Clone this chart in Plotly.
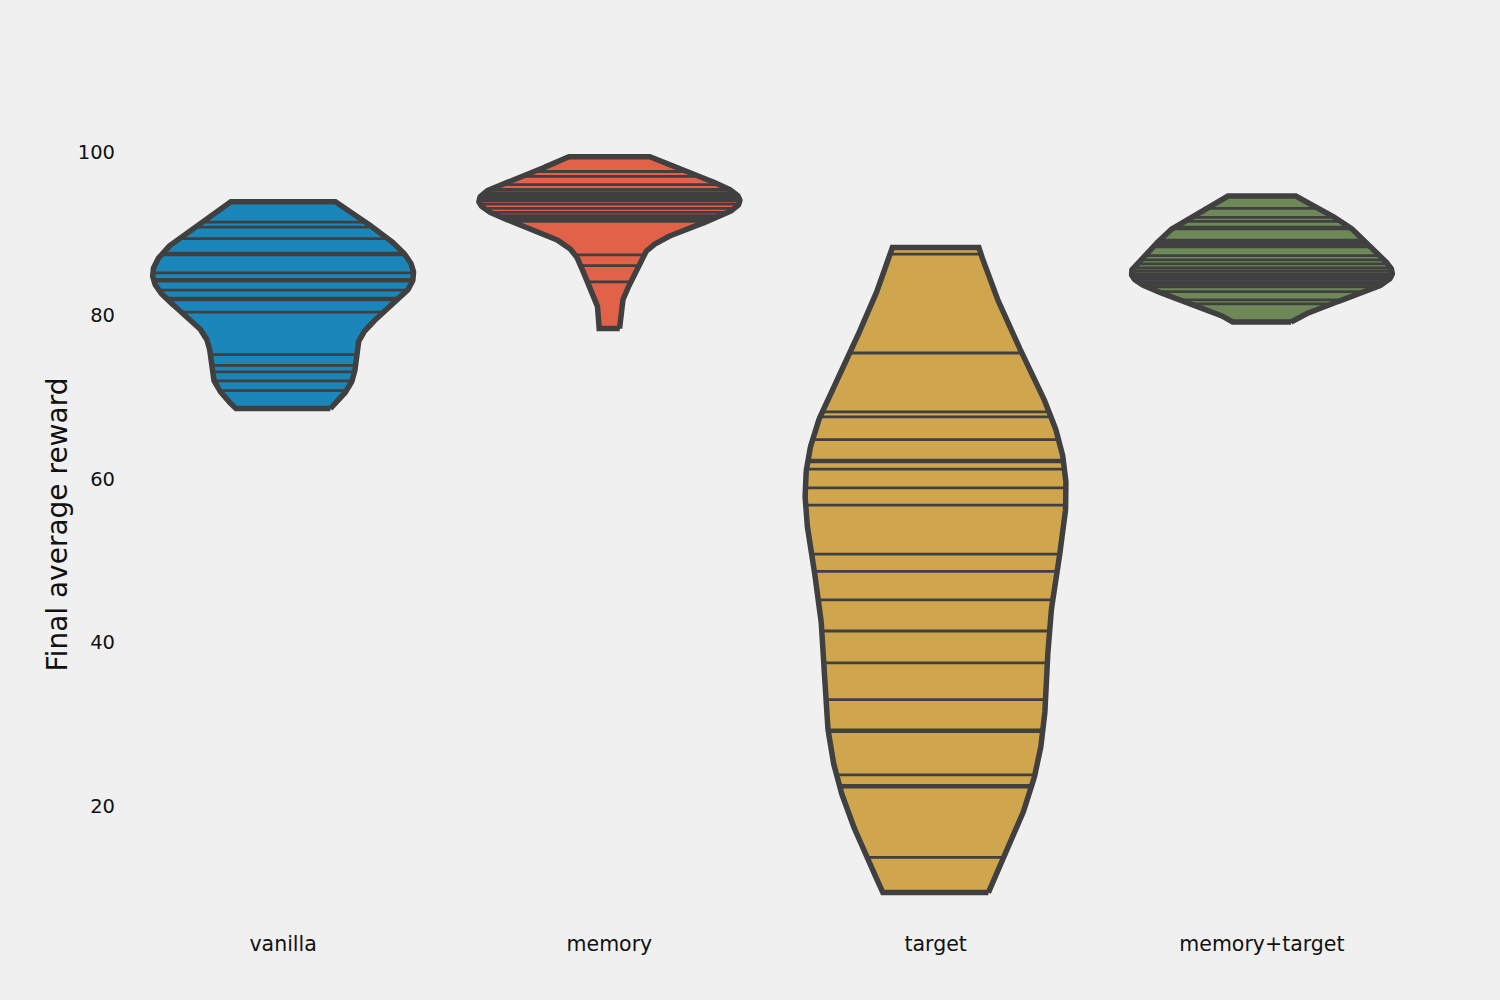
import numpy as np
import plotly.graph_objects as go

categories = ["vanilla", "memory", "target", "memory+target"]

vanilla = [93.9, 91.4, 90.8, 89.4, 87.6, 87.5, 87.4, 85.2, 84.4, 84.2, 83.1, 82.1,
           82.0, 81.9, 80.4, 75.2, 73.9, 73.1, 72.0, 70.8, 68.6]
memory = [99.4, 97.6, 97.0, 96.0, 95.4, 95.0, 94.8, 94.6, 94.4, 94.2, 94.0, 93.6,
          93.1, 92.6, 92.2, 91.9, 91.7, 91.5, 87.4, 86.1, 84.1, 78.4]
target = [88.3, 87.5, 75.4, 68.2, 67.6, 64.8, 62.3, 62.1, 61.2, 58.9, 56.8, 50.8,
          48.7, 45.2, 41.4, 37.5, 33.0, 29.3, 29.1, 23.8, 22.5, 22.3, 13.7, 9.4]
memory_target = [94.6, 93.1, 92.0, 91.5, 90.8, 90.6, 89.2, 89.0, 88.7, 88.4, 87.3,
                 86.8, 86.3, 85.8, 85.4, 85.0, 84.7, 84.4, 84.1, 83.8, 83.5, 82.9,
                 81.9, 81.4, 79.2]

series = [vanilla, memory, target, memory_target]
fill_colors = ["#1b86ba", "#e26149", "#cfa64e", "#6e8857"]
line_color = "#404040"
y_ticks = [20, 40, 60, 80, 100]

HALF_WIDTH = 0.4


def kde(data, grid):
    data = np.asarray(data, float)
    n = len(data)
    bw = n ** (-1.0 / 5) * np.std(data, ddof=1)
    z = (grid[:, None] - data[None, :]) / bw
    return np.exp(-0.5 * z ** 2).sum(axis=1) / (n * bw * np.sqrt(2 * np.pi))


fig = go.Figure()
for i, (vals, col) in enumerate(zip(series, fill_colors)):
    vals = np.asarray(vals, float)
    grid = np.linspace(vals.min(), vals.max(), 300)
    dens = kde(vals, grid)
    scale = HALF_WIDTH / dens.max()
    d = dens * scale
    xs = np.concatenate([i + d, (i - d)[::-1], [i + d[0]]])
    ys = np.concatenate([grid, grid[::-1], [grid[0]]])
    fig.add_trace(go.Scatter(x=xs, y=ys, mode="lines", fill="toself",
                             fillcolor=col, line=dict(color=line_color, width=5.5),
                             hoverinfo="skip", showlegend=False))
    sx, sy = [], []
    for v in vals:
        w = np.interp(v, grid, d)
        sx += [i - w, i + w, None]
        sy += [v, v, None]
    fig.add_trace(go.Scatter(x=sx, y=sy, mode="lines",
                             line=dict(color=line_color, width=2.8),
                             hoverinfo="skip", showlegend=False))

fig.update_layout(
    width=1500, height=1000,
    margin=dict(l=120, r=75, t=120, b=71),
    paper_bgcolor="#f0f0f0", plot_bgcolor="#f0f0f0",
    font=dict(family="DejaVu Sans", color="#111111", size=19),
    xaxis=dict(range=[-0.5, 3.5], tickvals=list(range(len(categories))),
               ticktext=categories, showgrid=False, zeroline=False,
               showline=False, ticks="", tickfont=dict(size=20.5)),
    yaxis=dict(range=[4.95, 103.9], tickvals=y_ticks,
               ticktext=[str(t) for t in y_ticks], showgrid=False,
               zeroline=False, showline=False, ticks="",
               ticklabelstandoff=4,
               tickfont=dict(size=19.5),
               title=dict(text="Final average reward", font=dict(size=28),
                          standoff=1)),
)

fig.write_html("out.html")
